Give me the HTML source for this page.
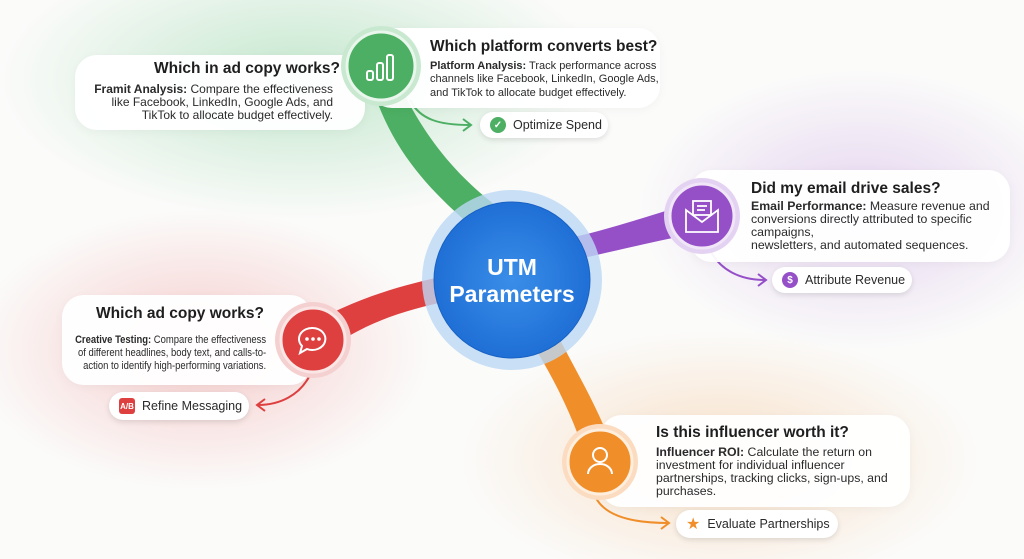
<!DOCTYPE html>
<html><head><meta charset="utf-8"><style>
html,body{margin:0;padding:0}
body{width:1024px;height:559px;overflow:hidden;position:relative;background:#fbfbfa;font-family:"Liberation Sans",sans-serif;color:#1e1e1e}
.card{position:absolute;background:rgba(255,255,255,0.95);border-radius:22px;box-shadow:0 2px 10px rgba(0,0,0,0.04)}
.t{position:absolute;font-weight:bold;font-size:15.5px;white-space:nowrap}
.b{position:absolute;font-size:11px;line-height:13.4px;color:#2a2a2a;white-space:nowrap}
.b b{font-weight:bold}
.pill{position:absolute;background:#fff;border-radius:14px;box-shadow:0 2px 6px rgba(0,0,0,0.12);font-size:12.5px;display:flex;align-items:center;gap:7px;padding-left:10px;box-sizing:border-box;color:#2a2a2a}
.ic{width:16px;height:16px;border-radius:50%;display:inline-flex;align-items:center;justify-content:center;color:#fff;font-size:10px;font-weight:bold}
</style></head><body>
<svg width="1024" height="559" style="position:absolute;left:0;top:0">
<defs>
<radialGradient id="gg"><stop offset="0" stop-color="#5cc27a" stop-opacity=".35"/><stop offset="1" stop-color="#5cc27a" stop-opacity="0"/></radialGradient>
<radialGradient id="gp"><stop offset="0" stop-color="#b07ad8" stop-opacity=".3"/><stop offset="1" stop-color="#b07ad8" stop-opacity="0"/></radialGradient>
<radialGradient id="gr"><stop offset="0" stop-color="#e86060" stop-opacity=".3"/><stop offset="1" stop-color="#e86060" stop-opacity="0"/></radialGradient>
<radialGradient id="go"><stop offset="0" stop-color="#f0a050" stop-opacity=".3"/><stop offset="1" stop-color="#f0a050" stop-opacity="0"/></radialGradient>
<radialGradient id="gb"><stop offset="0" stop-color="#3a8ee8"/><stop offset="1" stop-color="#1f6fd6"/></radialGradient>
</defs>
<ellipse cx="300" cy="80" rx="300" ry="140" fill="url(#gg)"/>
<ellipse cx="860" cy="210" rx="220" ry="140" fill="url(#gp)"/>
<ellipse cx="200" cy="350" rx="230" ry="140" fill="url(#gr)"/>
<ellipse cx="720" cy="460" rx="260" ry="130" fill="url(#go)"/>
<path d="M370 80 C390 150 430 190 470 225 L495 205 C450 170 420 130 395 75 Z" fill="#4caf63"/>
<path d="M702 200 C650 215 610 230 560 240 L565 262 C620 250 660 240 702 232 Z" fill="#9550c8"/>
<path d="M300 330 C350 300 400 285 450 275 L455 300 C400 310 360 325 320 355 Z" fill="#de4040"/>
<path d="M590 470 C575 420 555 380 530 340 L555 330 C575 370 600 410 615 455 Z" fill="#f08e2a"/>
<path d="M410 100 C420 120 440 125 470 125" stroke="#4caf63" stroke-width="2" fill="none"/><path d="M463 119 L471 125 L463 131" stroke="#4caf63" stroke-width="2" fill="none"/>
<path d="M710 250 C720 270 740 280 765 280" stroke="#9550c8" stroke-width="2" fill="none"/><path d="M758 274 L766 280 L758 286" stroke="#9550c8" stroke-width="2" fill="none"/>
<path d="M310 375 C300 395 280 405 258 405" stroke="#de4040" stroke-width="2" fill="none"/><path d="M265 399 L257 405 L265 411" stroke="#de4040" stroke-width="2" fill="none"/>
<path d="M596 498 C605 515 630 523 668 523" stroke="#f08e2a" stroke-width="2" fill="none"/><path d="M661 517 L669 523 L661 529" stroke="#f08e2a" stroke-width="2" fill="none"/>
</svg>
<div class="card" style="left:75px;top:55px;width:290px;height:75px"></div>
<div class="card" style="left:370px;top:28px;width:290px;height:80px"></div>
<div class="card" style="left:690px;top:170px;width:320px;height:92px"></div>
<div class="card" style="left:62px;top:295px;width:250px;height:90px"></div>
<div class="card" style="left:600px;top:415px;width:310px;height:92px"></div>
<svg width="1024" height="559" style="position:absolute;left:0;top:0">
<circle cx="512" cy="280" r="90" fill="#bcd8f5" opacity=".8"/>
<circle cx="512" cy="280" r="78" fill="url(#gb)" stroke="#1a62c4" stroke-width="1"/>
<text x="512" y="275" fill="#fff" font-family="Liberation Sans" font-weight="bold" font-size="23" text-anchor="middle">UTM</text>
<text x="512" y="302" fill="#fff" font-family="Liberation Sans" font-weight="bold" font-size="23" text-anchor="middle">Parameters</text>
<circle cx="381" cy="66" r="40" fill="#c8e8d0"/><circle cx="381" cy="66" r="34" fill="#4caf63" stroke="#e8f6ec" stroke-width="3"/>
<g stroke="#fff" stroke-width="2" fill="none"><rect x="367" y="71" width="6" height="9" rx="2"/><rect x="377" y="63" width="6" height="17" rx="2"/><rect x="387" y="55" width="6" height="25" rx="2"/></g>
<circle cx="702" cy="216" r="38" fill="#e4d2f2"/><circle cx="702" cy="216" r="32" fill="#9550c8" stroke="#f0e6f8" stroke-width="3"/>
<g stroke="#fff" stroke-width="1.8" fill="none"><path d="M686 210 L686 232 L718 232 L718 210 L702 222 Z"/><rect x="693" y="201" width="18" height="14"/><path d="M697 206 H707 M697 210 H705"/></g>
<circle cx="313" cy="340" r="38" fill="#f5d0d0"/><circle cx="313" cy="340" r="32" fill="#de4040" stroke="#fbe6e6" stroke-width="3"/>
<path d="M313 328 a13 11 0 1 1 -6 21 l-7 4 l2 -7 a13 11 0 0 1 11 -18z" stroke="#fff" stroke-width="2" fill="none"/>
<g fill="#fff"><circle cx="307" cy="339" r="1.8"/><circle cx="313" cy="339" r="1.8"/><circle cx="319" cy="339" r="1.8"/></g>
<circle cx="600" cy="462" r="38" fill="#fbdcc0"/><circle cx="600" cy="462" r="32" fill="#f08e2a" stroke="#fdeedd" stroke-width="3"/>
<g stroke="#fff" stroke-width="2" fill="none"><circle cx="600" cy="455" r="7"/><path d="M588 474 a12 10 0 0 1 24 0"/></g>
</svg>
<div class="t" style="right:684px;top:60px">Which in ad copy works?</div>
<div class="b" style="right:691px;top:83px;text-align:right;font-size:12px;line-height:13.2px"><b>Framit Analysis:</b> Compare the effectiveness<br>like Facebook, LinkedIn, Google Ads, and<br>TikTok to allocate budget effectively.</div>
<div class="t" style="left:430px;top:38px">Which platform converts best?</div>
<div class="b" style="left:430px;top:60px"><b>Platform Analysis:</b> Track performance across<br>channels like Facebook, LinkedIn, Google Ads,<br>and TikTok to allocate budget effectively.</div>
<div class="pill" style="left:480px;top:112px;width:128px;height:26px"><span class="ic" style="background:#4caf63">✓</span>Optimize Spend</div>
<div class="t" style="left:751px;top:180px">Did my email drive sales?</div>
<div class="b" style="left:751px;top:200px;font-size:12.3px;line-height:13px"><b>Email Performance:</b> Measure revenue and<br>conversions directly attributed to specific<br>campaigns,<br>newsletters, and automated sequences.</div>
<div class="pill" style="left:772px;top:267px;width:140px;height:26px"><span class="ic" style="background:#9550c8">$</span>Attribute Revenue</div>
<div class="t" style="right:760px;top:305px">Which ad copy works?</div>
<div class="b" style="right:758px;top:334px;text-align:right;transform:scaleX(0.86);transform-origin:right top;line-height:12.8px"><b>Creative Testing:</b> Compare the effectiveness<br>of different headlines, body text, and calls-to-<br>action to identify high-performing variations.</div>
<div class="pill" style="left:109px;top:392px;width:140px;height:28px"><span class="ic" style="background:#de4040;border-radius:3px;font-size:8px">A/B</span>Refine Messaging</div>
<div class="t" style="left:656px;top:424px">Is this influencer worth it?</div>
<div class="b" style="left:656px;top:446px;font-size:12.3px;line-height:13px"><b>Influencer ROI:</b> Calculate the return on<br>investment for individual influencer<br>partnerships, tracking clicks, sign-ups, and<br>purchases.</div>
<div class="pill" style="left:676px;top:510px;width:162px;height:28px"><span style="color:#f08e2a;font-size:16px">★</span>Evaluate Partnerships</div>
</body></html>
